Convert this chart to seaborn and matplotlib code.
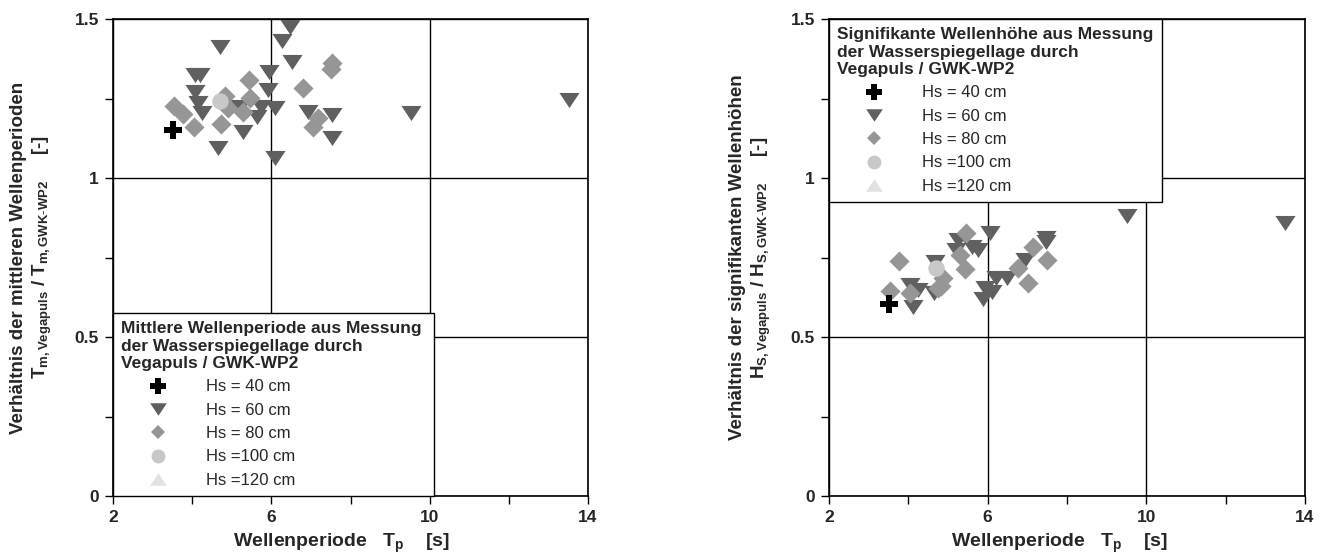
import matplotlib
matplotlib.use("Agg")
import matplotlib.pyplot as plt
from matplotlib.lines import Line2D
import seaborn as sns
import pandas as pd

# ---------------- data ----------------
# Left: ratio of mean wave periods
tm_hs40_x = [3.51]
tm_hs40_y = [1.151]
tm_hs60_x = [6.47, 6.26, 4.70, 6.51, 4.07, 4.20, 5.95, 4.07, 5.92, 4.15, 4.24, 5.21,
             5.75, 6.09, 5.63, 6.93, 7.52, 5.29, 7.52, 4.66, 6.09, 9.54, 13.52]
tm_hs60_y = [1.476, 1.430, 1.413, 1.366, 1.324, 1.324, 1.334, 1.271, 1.277, 1.235, 1.203, 1.224,
             1.224, 1.219, 1.193, 1.209, 1.198, 1.146, 1.125, 1.093, 1.062, 1.203, 1.245]
tm_hs80_x = [7.52, 7.50, 5.44, 6.79, 4.83, 5.46, 3.54, 3.78, 4.91, 5.29, 7.18, 7.06, 4.05, 4.72]
tm_hs80_y = [1.363, 1.342, 1.308, 1.282, 1.258, 1.251, 1.227, 1.201, 1.219, 1.209, 1.188, 1.159,
             1.161, 1.169]
tm_hs100_x = [4.70]
tm_hs100_y = [1.243]

# Right: ratio of significant wave heights
hs_hs40_x = [3.52]
hs_hs40_y = [0.603]
hs_hs60_x = [9.50, 6.06, 5.26, 5.60, 5.76, 5.21, 7.48, 7.48, 4.68, 6.94, 6.48, 6.22, 5.93,
             6.10, 5.88, 4.04, 4.25, 4.13, 4.64, 13.49]
hs_hs60_y = [0.879, 0.826, 0.805, 0.784, 0.774, 0.774, 0.810, 0.800, 0.737, 0.742, 0.684, 0.684,
             0.653, 0.642, 0.621, 0.663, 0.647, 0.595, 0.637, 0.858]
hs_hs80_x = [3.77, 5.45, 5.30, 5.43, 7.15, 7.50, 6.77, 7.02, 3.54, 4.04, 4.88, 4.75, 4.82]
hs_hs80_y = [0.740, 0.826, 0.758, 0.714, 0.784, 0.742, 0.716, 0.670, 0.645, 0.637, 0.684,
             0.653, 0.660]
hs_hs100_x = [4.70]
hs_hs100_y = [0.716]

series_labels = ["Hs = 40 cm", "Hs = 60 cm", "Hs = 80 cm", "Hs =100 cm", "Hs =120 cm"]
x_ticks = [2, 6, 10, 14]
x_ticklabels = ["2", "6", "10", "14"]
y_ticks = [0, 0.5, 1, 1.5]
y_ticklabels = ["0", "0.5", "1", "1.5"]

title_left = "Mittlere Wellenperiode aus Messung\nder Wasserspiegellage durch\nVegapuls / GWK-WP2"
title_right = "Signifikante Wellenhöhe aus Messung\nder Wasserspiegellage durch\nVegapuls / GWK-WP2"
ylabel_left = ("Verhältnis der mittleren Wellenperioden\n"
               r"$\mathbf{T}_{\mathbf{m,Vegapuls}}$ / $\mathbf{T}_{\mathbf{m,GWK}\text{-}\mathbf{WP2}}$     [-]")
ylabel_right = ("Verhältnis der signifikanten Wellenhöhen\n"
                r"$\mathbf{H}_{\mathbf{S,Vegapuls}}$ / $\mathbf{H}_{\mathbf{S,GWK}\text{-}\mathbf{WP2}}$     [-]")
xlabel = r"Wellenperiode   $\mathbf{T}_{\mathbf{p}}$    [s]"

# ---------------- style ----------------
sns.set_style("ticks")
plt.rcParams["font.family"] = ["Liberation Sans", "DejaVu Sans"]
plt.rcParams["mathtext.fontset"] = "custom"
plt.rcParams["mathtext.rm"] = "Liberation Sans"
plt.rcParams["mathtext.bf"] = "Liberation Sans:bold"
plt.rcParams["mathtext.it"] = "Liberation Sans:italic"

col_plus = "#000000"
col_tri = "#606060"
col_dia = "#969696"
col_circ = "#c8c8c8"
col_tri_up = "#e2e2e2"
tri_down = [(-1, 0.75), (1, 0.75), (0, -0.75)]
tri_up = [(-1, -0.75), (1, -0.75), (0, 0.75)]

fig = plt.figure(figsize=(13.3, 5.54), dpi=100)
ax_l = fig.add_axes([113 / 1330, 58 / 554, 475 / 1330, 477 / 554])
ax_r = fig.add_axes([829 / 1330, 58 / 554, 476 / 1330, 477 / 554])


def draw(ax, sx40, sy40, sx60, sy60, sx80, sy80, sx100, sy100):
    sns.scatterplot(x=sx60, y=sy60, marker=tri_down, s=210, color=col_tri,
                    linewidth=0, ax=ax, zorder=3, legend=False)
    sns.scatterplot(x=sx80, y=sy80, marker="D", s=105, color=col_dia,
                    linewidth=0, ax=ax, zorder=4, legend=False)
    sns.scatterplot(x=sx100, y=sy100, marker="o", s=140, color=col_circ,
                    linewidth=0, ax=ax, zorder=5, legend=False)
    sns.scatterplot(x=sx40, y=sy40, marker="P", s=170, color=col_plus,
                    linewidth=0, ax=ax, zorder=6, legend=False)
    ax.set_xlim(2, 14)
    ax.set_ylim(0, 1.5)
    ax.set_xticks(x_ticks)
    ax.set_xticklabels(x_ticklabels, fontsize=12.5, fontweight="bold")
    ax.set_yticks(y_ticks)
    ax.set_yticklabels(y_ticklabels, fontsize=12.5, fontweight="bold")
    ax.set_xticks([4, 8, 12], minor=True)
    ax.set_yticks([0.25, 0.75, 1.25], minor=True)
    ax.tick_params(which="both", direction="out", length=6, width=1, color="black")
    ax.tick_params(which="major", pad=4)
    ax.grid(True, which="major", color="black", linewidth=1, zorder=1)
    ax.set_axisbelow(True)
    for sp in ax.spines.values():
        sp.set_visible(True)
        sp.set_color("black")
        sp.set_linewidth(1.2)
    ax.set_xlabel(xlabel, fontsize=14, fontweight="bold")


draw(ax_l, tm_hs40_x, tm_hs40_y, tm_hs60_x, tm_hs60_y, tm_hs80_x, tm_hs80_y, tm_hs100_x, tm_hs100_y)
draw(ax_r, hs_hs40_x, hs_hs40_y, hs_hs60_x, hs_hs60_y, hs_hs80_x, hs_hs80_y, hs_hs100_x, hs_hs100_y)

ax_l.set_ylabel(ylabel_left, fontsize=13.5, fontweight="bold", linespacing=1.25)
ax_r.set_ylabel(ylabel_right, fontsize=13.5, fontweight="bold", linespacing=1.25)
ax_l.yaxis.set_label_coords(-0.125, 0.5)
ax_r.yaxis.set_label_coords(-0.118, 0.5)
ax_l.xaxis.set_label_coords(0.48, -0.075)
ax_r.xaxis.set_label_coords(0.485, -0.075)


def handles():
    return [
        Line2D([], [], linestyle="", marker="P", markersize=11, color=col_plus, markeredgewidth=0),
        Line2D([], [], linestyle="", marker=tri_down, markersize=12, color=col_tri, markeredgewidth=0),
        Line2D([], [], linestyle="", marker="D", markersize=7.5, color=col_dia, markeredgewidth=0),
        Line2D([], [], linestyle="", marker="o", markersize=10, color=col_circ, markeredgewidth=0),
        Line2D([], [], linestyle="", marker=tri_up, markersize=12, color=col_tri_up, markeredgewidth=0),
    ]


leg_kw = dict(fontsize=12, title_fontproperties={"weight": "bold", "size": 12.5},
              alignment="left", frameon=True, fancybox=False, framealpha=1,
              edgecolor="black", borderpad=0.5, handlelength=4.4, handletextpad=0.65,
              labelspacing=0.5, borderaxespad=0, mode="expand")

lg_l = ax_l.legend(handles(), series_labels, title=title_left, loc="lower left",
                   bbox_to_anchor=(0, 0, 0.676, 1), **leg_kw)
lg_r = ax_r.legend(handles(), series_labels, title=title_right, loc="upper left",
                   bbox_to_anchor=(0, 0, 0.70, 1), **leg_kw)
for lg in (lg_l, lg_r):
    lg.get_frame().set_linewidth(1)
    lg.set_zorder(10)
    lg.get_title().set_linespacing(1.2)

fig.savefig("out.png", dpi=100)
